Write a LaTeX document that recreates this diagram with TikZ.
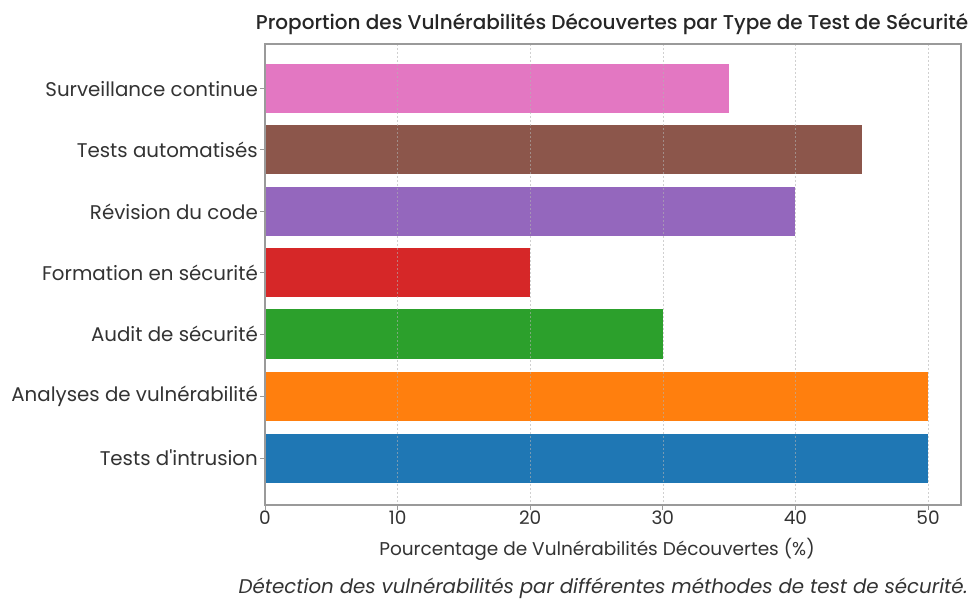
\documentclass[tikz,border=0pt]{standalone}
\usepackage{fontspec}
\setmainfont{Poppins}
\newfontfamily\titlefont{Poppins Medium}
\definecolor{tabblue}{HTML}{1F77B4}
\definecolor{taborange}{HTML}{FF7F0E}
\definecolor{tabgreen}{HTML}{2CA02C}
\definecolor{tabred}{HTML}{D62728}
\definecolor{tabpurple}{HTML}{9467BD}
\definecolor{tabbrown}{HTML}{8C564B}
\definecolor{tabpink}{HTML}{E377C2}
\definecolor{spine}{HTML}{9A9A9A}
\definecolor{txt}{HTML}{333333}
\begin{document}
\begin{tikzpicture}[x=1pt,y=-1pt,
  gridline/.style={draw=gray!60, line width=0.6pt, dash pattern=on 2pt off 2pt, opacity=0.6},
  ylab/.style={anchor=east, font=\fontsize{19.8}{22}\selectfont, text=txt, inner sep=0pt},
  xlab/.style={anchor=north, font=\fontsize{18.5}{21}\selectfont, text=txt, inner sep=0pt},
  tickmark/.style={draw=spine, line width=1pt}]
\useasboundingbox (0,0) rectangle (971,601);
\fill[white] (0,0) rectangle (971,601);
% bars
\foreach \v/\c/\y in {50/tabblue/458, 50/taborange/396, 30/tabgreen/334, 20/tabred/273, 40/tabpurple/212, 45/tabbrown/150, 35/tabpink/89}{
  \fill[\c] (265,\y-24.5) rectangle ({265+\v*13.26},\y+24.5);
}
% grid
\foreach \t in {10,20,30,40,50}{
  \draw[gridline] ({265+\t*13.26},44) -- ({265+\t*13.26},505);
}
% frame
\draw[spine, line width=1.5pt] (265,44) rectangle (961,505);
% y ticks and labels
\foreach \y/\l/\n in {458/Tests d\textquotesingle intrusion/ya, 396/Analyses de vulnérabilité/yb, 334/Audit de sécurité/yc, 273/Formation en sécurité/yd, 212/Révision du code/ye, 150/Tests automatisés/yf, 89/Surveillance continue/yg}{
  \draw[tickmark] (260,\y) -- (265,\y);
  \node[ylab] (\n) at (258,\y) {\l};
}
% x ticks and labels
\foreach \t in {0,10,20,30,40,50}{
  \draw[tickmark] ({265+\t*13.26},505) -- ({265+\t*13.26},510);
  \node[xlab] (x\t) at ({265+\t*13.26},511) {\t};
}
\node[anchor=north, font=\fontsize{18.5}{21}\selectfont, text=txt, inner sep=0pt] (xtitle) at (597,538) {Pourcentage de Vulnérabilités Découvertes (\%)};
\node[anchor=base, font=\titlefont\fontsize{20}{22}\selectfont, text=black!85, inner sep=0pt] (title) at (612,30) {Proportion des Vulnérabilités Découvertes par Type de Test de Sécurité};
\node[anchor=base east, font=\fontsize{19.8}{22}\selectfont\itshape, text=txt, inner sep=0pt] (caption) at (968,593) {Détection des vulnérabilités par différentes méthodes de test de sécurité.};
\end{tikzpicture}
\end{document}
